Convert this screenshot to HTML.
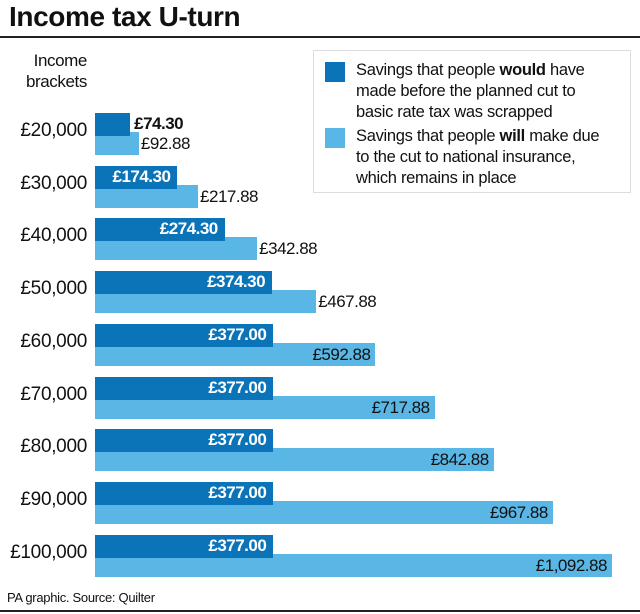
<!DOCTYPE html>
<html><head><meta charset="utf-8"><style>
body{margin:0;width:640px;height:614px;background:#fff;font-family:"Liberation Sans",sans-serif;position:relative;overflow:hidden;color:#111}
.a{position:absolute}
.d{position:absolute;background:#0b74b8;height:23px;left:95px}
.l{position:absolute;background:#5ab6e4;height:23px;left:95px}
.lab{position:absolute;font-size:17px;letter-spacing:-0.5px;line-height:20px}
.yl{position:absolute;right:553px;font-size:19px;letter-spacing:-0.3px;text-align:right;line-height:20px}
</style></head><body>
<div class="a" style="left:9px;top:1px;font-size:28px;font-weight:bold;letter-spacing:-0.4px">Income tax U-turn</div>
<div class="a" style="left:0;top:36px;width:640px;height:2px;background:#222"></div>
<div class="a" style="left:0;top:610px;width:640px;height:2px;background:#222"></div>
<div class="a" style="left:10px;top:50px;width:77px;text-align:right;font-size:17px;line-height:21px;letter-spacing:-0.4px">Income<br>brackets</div>
<div class="a" style="left:313px;top:50px;width:316px;height:141px;border:1px solid #ddd"></div>
<div class="a" style="left:325px;top:62px;width:20px;height:20px;background:#0b74b8"></div>
<div class="a" style="left:325px;top:128px;width:20px;height:20px;background:#5ab6e4"></div>
<div class="a" style="left:356px;top:60px;font-size:16.5px;line-height:21px;letter-spacing:-0.3px">Savings that people <b>would</b> have<br>made before the planned cut to<br>basic rate tax was scrapped</div>
<div class="a" style="left:356px;top:126px;font-size:16.5px;line-height:21px;letter-spacing:-0.3px">Savings that people <b>will</b> make due<br>to the cut to national insurance,<br>which remains in place</div>
<div id="c"></div>
<div class="a" style="left:7px;top:590px;font-size:13px;letter-spacing:-0.3px">PA graphic. Source: Quilter</div>
<script>
var rows=[["£20,000",74.30,92.88],["£30,000",174.30,217.88],["£40,000",274.30,342.88],["£50,000",374.30,467.88],["£60,000",377,592.88],["£70,000",377,717.88],["£80,000",377,842.88],["£90,000",377,967.88],["£100,000",377,1092.88]];
var h="",s=0.473;
function f(v){var t=v.toFixed(2).split(".");t[0]=t[0].replace(/\B(?=(\d{3})+(?!\d))/g,",");return "£"+t.join(".");}
rows.forEach(function(r,i){var y=113+i*52.7;var dw=r[1]*s,lw=r[2]*s;
h+='<div class="l" style="top:'+(y+19)+'px;width:'+lw+'px;height:23px"></div>';
h+='<div class="d" style="top:'+y+'px;width:'+dw+'px"></div>';
h+='<div class="yl" style="top:'+(y+8)+'px">'+r[0]+'</div>';
if(r[1]<100)h+='<div class="lab" style="left:'+(95+dw+4)+'px;top:'+(y+1)+'px;font-weight:bold">'+f(r[1])+'</div>';
else h+='<div class="lab" style="left:95px;width:'+(dw-7)+'px;text-align:right;top:'+(y+1)+'px;color:#fff;font-weight:bold">'+f(r[1])+'</div>';
if(r[2]<500)h+='<div class="lab" style="left:'+(95+lw+2)+'px;top:'+(y+21)+'px">'+f(r[2])+'</div>';
else h+='<div class="lab" style="left:95px;width:'+(lw-5)+'px;text-align:right;top:'+(y+21)+'px">'+f(r[2])+'</div>';
});
document.getElementById("c").innerHTML=h;
</script>
</body></html>
